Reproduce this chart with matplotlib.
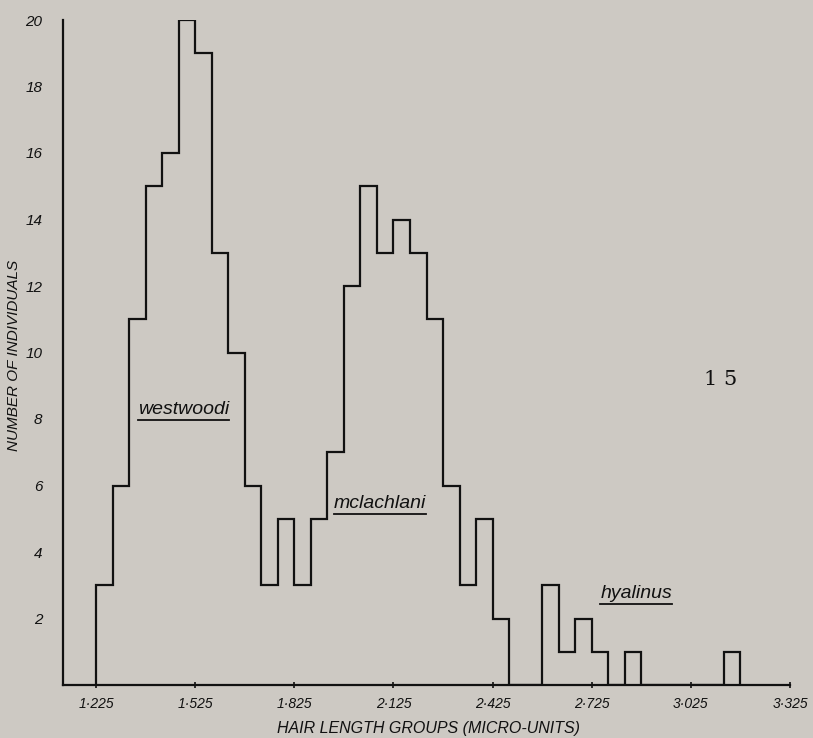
"""Hair length histogram for three species (westwoodi, mclachlani, hyalinus)."""
import numpy as np
import matplotlib.pyplot as plt

# counts per 0.05 micro-unit group, starting at 1.225
counts = [3, 6, 11, 15, 16, 20, 19, 13, 10, 6, 3, 5, 3, 5, 7, 12, 15, 13, 14, 13,
          11, 6, 3, 5, 2, 0, 0, 3, 1, 2, 1, 0, 1, 0, 0, 0, 0, 0, 1]
first_edge = 1.225
bin_width = 0.05
xticks = [1.225, 1.525, 1.825, 2.125, 2.425, 2.725, 3.025, 3.325]
xtick_labels = ["1·225", "1·525", "1·825", "2·125", "2·425", "2·725", "3·025", "3·325"]
yticks = [2, 4, 6, 8, 10, 12, 14, 16, 18, 20]
species = ["westwoodi", "mclachlani", "hyalinus"]
species_pos = [(1.489, 8.3), (2.085, 5.45), (2.86, 2.75)]

BG = "#cdc9c3"
HAND = ["Liberation Sans", "DejaVu Sans"]

edges = first_edge + bin_width * np.arange(len(counts) + 1)

fig = plt.figure(figsize=(8.13, 7.38), dpi=100, facecolor=BG)
ax = fig.add_axes([63 / 813, 53 / 738, 727 / 813, 665 / 738])
ax.set_facecolor(BG)

ax.stairs(counts, edges, color="#111111", linewidth=1.6, baseline=0)

ax.set_xlim(1.125, 3.325)
ax.set_ylim(0, 20)
for s in ("top", "right"):
    ax.spines[s].set_visible(False)
for s in ("left", "bottom"):
    ax.spines[s].set_linewidth(1.6)
    ax.spines[s].set_color("#111111")

ax.set_xticks(xticks)
ax.set_xticklabels(xtick_labels, family=HAND, style="italic", fontsize=10)
ax.set_yticks(yticks)
ax.set_yticklabels([str(v) for v in yticks], family=HAND, style="italic", fontsize=11)
ax.tick_params(axis="x", direction="inout", length=4, width=1.2, pad=7, colors="#111111")
ax.tick_params(axis="y", length=0, pad=15, colors="#111111")

# axis titles placed by hand so they stay inside the canvas
fig.text(428 / 813, 10 / 738, "HAIR LENGTH GROUPS (MICRO-UNITS)", family=HAND,
         style="italic", fontsize=11.5, ha="center", va="center", color="#111111")
fig.text(14 / 813, 1 - 355 / 738, "NUMBER OF INDIVIDUALS", family=HAND,
         style="italic", fontsize=11, ha="center", va="center", rotation=90,
         color="#111111")

# species names, underlined
fig.canvas.draw()
renderer = fig.canvas.get_renderer()
inv = ax.transData.inverted()
for name, (x, y) in zip(species, species_pos):
    t = ax.text(x, y, name, family=HAND, style="italic", fontsize=14,
                ha="center", va="center", color="#111111")
    bb = t.get_window_extent(renderer)
    (x0, y0), (x1, _) = inv.transform([(bb.x0, bb.y0 - 2), (bb.x1, bb.y0 - 2)])
    ax.plot([x0, x1], [y0, y0], color="#111111", linewidth=1.3)

ax.text(3.116, 9.2, "1 5", family=["DejaVu Serif"], fontsize=15,
        ha="center", va="center", color="#111111")

fig.savefig("out.png", dpi=100, facecolor=BG)
